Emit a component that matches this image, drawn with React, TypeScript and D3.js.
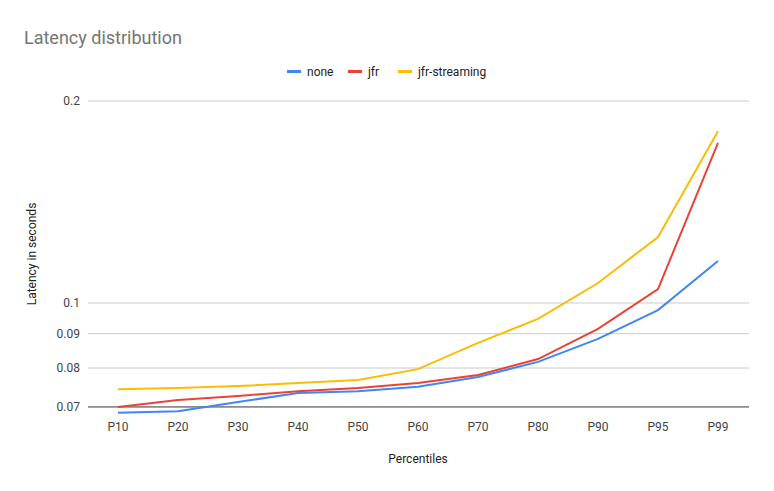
import * as d3 from "d3";

const categories = ["P10", "P20", "P30", "P40", "P50", "P60", "P70", "P80", "P90", "P95", "P99"];
const noneValues = [0.0686, 0.069, 0.0712, 0.0734, 0.0739, 0.075, 0.0776, 0.0817, 0.0884, 0.0976, 0.1155];
const jfrValues = [0.07, 0.0717, 0.0727, 0.0739, 0.0747, 0.076, 0.0781, 0.0825, 0.0915, 0.1049, 0.1732];
const streamingValues = [0.0744, 0.0747, 0.0752, 0.076, 0.0768, 0.0797, 0.0872, 0.0947, 0.1071, 0.1254, 0.1803];
const yTicks = [0.07, 0.08, 0.09, 0.1, 0.2];

const series = [
  { name: "none", color: "#4285f4", values: noneValues },
  { name: "jfr", color: "#ea4335", values: jfrValues },
  { name: "jfr-streaming", color: "#fbbc04", values: streamingValues },
];

export default function App() {
  const width = 774;
  const height = 491;
  const font = "Roboto, Arial, sans-serif";

  const x = d3.scalePoint<string>().domain(categories).range([118, 718]);
  // log scale: 0.2 -> 101, 0.1 -> 303
  const y = d3.scaleLog().domain([0.0686, 0.2]).range([303 + 671 * Math.log10(0.1 / 0.0686), 101]);

  const line = d3
    .line<number>()
    .x((_, i) => x(categories[i])!)
    .y((d) => y(d));

  const legendX = [287, 348, 398];

  return (
    <svg width={width} height={height} style={{ position: "absolute", left: 0, top: 0, background: "#fff" }}>
      <rect width={width} height={height} fill="#fff" />
      <text x={24} y={44} fontFamily={font} fontSize={18} fill="#757575">Latency distribution</text>

      {series.map((s, i) => (
        <g key={s.name}>
          <rect x={legendX[i]} y={70} width={14} height={3} fill={s.color} />
          <text x={legendX[i] + 20} y={76} fontFamily={font} fontSize={12} fill="#222">{s.name}</text>
        </g>
      ))}

      {yTicks.map((t) => (
        <g key={t}>
          <line x1={88} x2={749} y1={y(t)} y2={y(t)} stroke={t === 0.07 ? "#333" : "#ccc"} strokeWidth={1} />
          <text x={80} y={y(t) + 4} textAnchor="end" fontFamily={font} fontSize={12} fill="#444">{d3.format("")(t)}</text>
        </g>
      ))}

      {categories.map((c) => (
        <text key={c} x={x(c)!} y={431} textAnchor="middle" fontFamily={font} fontSize={12} fill="#444">{c}</text>
      ))}

      {series.map((s) => (
        <path key={s.name} d={line(s.values)!} fill="none" stroke={s.color} strokeWidth={2} />
      ))}

      <text x={418} y={463} textAnchor="middle" fontFamily={font} fontSize={12} fill="#222">Percentiles</text>
      <text transform="translate(36,254) rotate(-90)" textAnchor="middle" fontFamily={font} fontSize={12} fill="#222">Latency in seconds</text>
    </svg>
  );
}
